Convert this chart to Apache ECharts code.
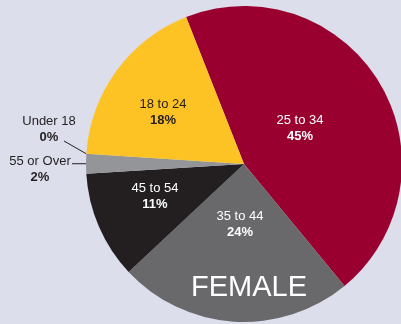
<!DOCTYPE html>
<html>
<head>
<meta charset="utf-8">
<script src="https://cdn.jsdelivr.net/npm/echarts@6/dist/echarts.min.js"></script>
<style>
  html, body { margin: 0; padding: 0; background: #dcdeec; }
  #chart { width: 401px; height: 324px; }
</style>
</head>
<body>
<div id="chart"></div>
<script>
// Age groups, clockwise from the top of the pie
const categories = ['25 to 34', '35 to 44', '45 to 54', '55 or Over', 'Under 18', '18 to 24'];
const shares = [45, 24, 11, 2, 0, 18];
const sliceColors = ['#990030', '#69696b', '#231f20', '#939598', '#f2c12e', '#fdc324'];
const groupTitle = 'FEMALE';

// Label placement (text centre) and text colour per age group
const labelSpots = {
  '25 to 34':   { x: 300, y: 128, color: '#ffffff' },
  '35 to 44':   { x: 240, y: 224, color: '#ffffff' },
  '45 to 54':   { x: 155, y: 196, color: '#ffffff' },
  '55 or Over': { x: 40,  y: 169, color: '#231f20' },
  'Under 18':   { x: 49,  y: 129, color: '#231f20' },
  '18 to 24':   { x: 163, y: 112, color: '#231f20' }
};
// Where each outside leader line leaves its label
const leaderEnds = {
  '55 or Over': [72, 0],
  'Under 18':   [64, 141]
};

const chart = echarts.init(document.getElementById('chart'), null, { renderer: 'canvas' });

const data = categories.map((name, i) => {
  const spot = labelSpots[name];
  const outside = !!leaderEnds[name];
  return {
    name: name,
    value: shares[i],
    itemStyle: { color: sliceColors[i] },
    label: {
      position: outside ? 'outside' : 'inside',
      color: spot.color,
      rich: {
        n: { fontSize: 13, color: spot.color, fontFamily: 'Liberation Sans, Arial, sans-serif', lineHeight: 16 },
        v: { fontSize: 13, color: spot.color, fontWeight: 'bold', fontFamily: 'Liberation Sans, Arial, sans-serif', lineHeight: 16 }
      }
    },
    labelLine: {
      show: outside,
      length: 8,
      length2: 8,
      lineStyle: { color: '#231f20', width: 1 }
    }
  };
});

chart.setOption({
  backgroundColor: '#dcdeec',
  animation: false,
  title: {
    text: groupTitle,
    left: 244,
    top: 268,
    textAlign: 'center',
    textStyle: {
      color: '#ffffff',
      fontSize: 29,
      fontWeight: 'normal',
      fontFamily: 'Liberation Sans, Arial, sans-serif'
    }
  },
  series: [{
    type: 'pie',
    center: [244, 164],
    radius: [0, 158],
    startAngle: 111.5,
    clockwise: true,
    avoidLabelOverlap: false,
    stillShowZeroSum: true,
    minShowLabelAngle: 0,
    itemStyle: { borderWidth: 0 },
    label: {
      show: true,
      formatter: p => '{n|' + p.name + '}\n{v|' + p.value + '%}'
    },
    labelLayout: p => {
      const name = categories[p.dataIndex];
      const spot = labelSpots[name];
      const out = { x: spot.x, y: spot.y, align: 'center', verticalAlign: 'middle' };
      const end = leaderEnds[name];
      if (end && p.labelLinePoints) {
        const anchor = p.labelLinePoints[0];
        // horizontal leader when no height is given
        const tip = [end[0], end[1] || anchor[1]];
        out.labelLinePoints = [anchor, tip, tip];
      }
      return out;
    },
    data: data
  }]
});
</script>
</body>
</html>
